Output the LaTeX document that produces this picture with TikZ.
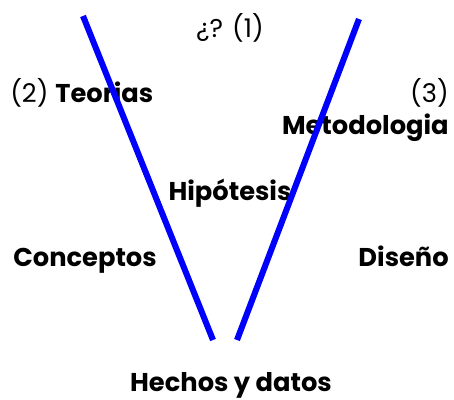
\documentclass[tikz,border=0pt]{standalone}
\usepackage{fontspec}
\setmainfont{Poppins}
\usetikzlibrary{positioning}

\tikzset{
  vline/.style={draw=blue,line width=4.3pt},
  lbl/.style={font=\fontsize{18.3}{21}\selectfont\bfseries,inner sep=0pt},
  plain/.style={font=\fontsize{18.3}{21}\selectfont,inner sep=0pt}
}

\begin{document}
\begin{tikzpicture}[x=0.025cm,y=-0.025cm]
\useasboundingbox (0,0) rectangle (454,400);

% ends of the V
\coordinate (ltop) at (83,16);
\coordinate (lbot) at (213,340);
\coordinate (rtop) at (359,19);
\coordinate (rbot) at (237,340);

% labels
\node[plain,anchor=base] (quest) at (230,38) {¿? (1)};
\node[plain,anchor=base west] (teo) at (10,103) {(2) \textbf{Teorias}};
\node[plain,anchor=base east] (num3) at (449,103) {(3)};
\node[lbl,anchor=base east] (meto) at (449,135) {Metodologia};
\node[lbl,anchor=base] (hipo) at (230,201) {Hipótesis};
\node[lbl,anchor=base west] (conc) at (13,267) {Conceptos};
\node[lbl,anchor=base east] (dise) at (449,267) {Diseño};
\node[lbl,anchor=base] (hech) at (231,391) {Hechos y datos};

% the V
\draw[vline] (ltop) -- (lbot);
\draw[vline] (rtop) -- (rbot);

\end{tikzpicture}
\end{document}
